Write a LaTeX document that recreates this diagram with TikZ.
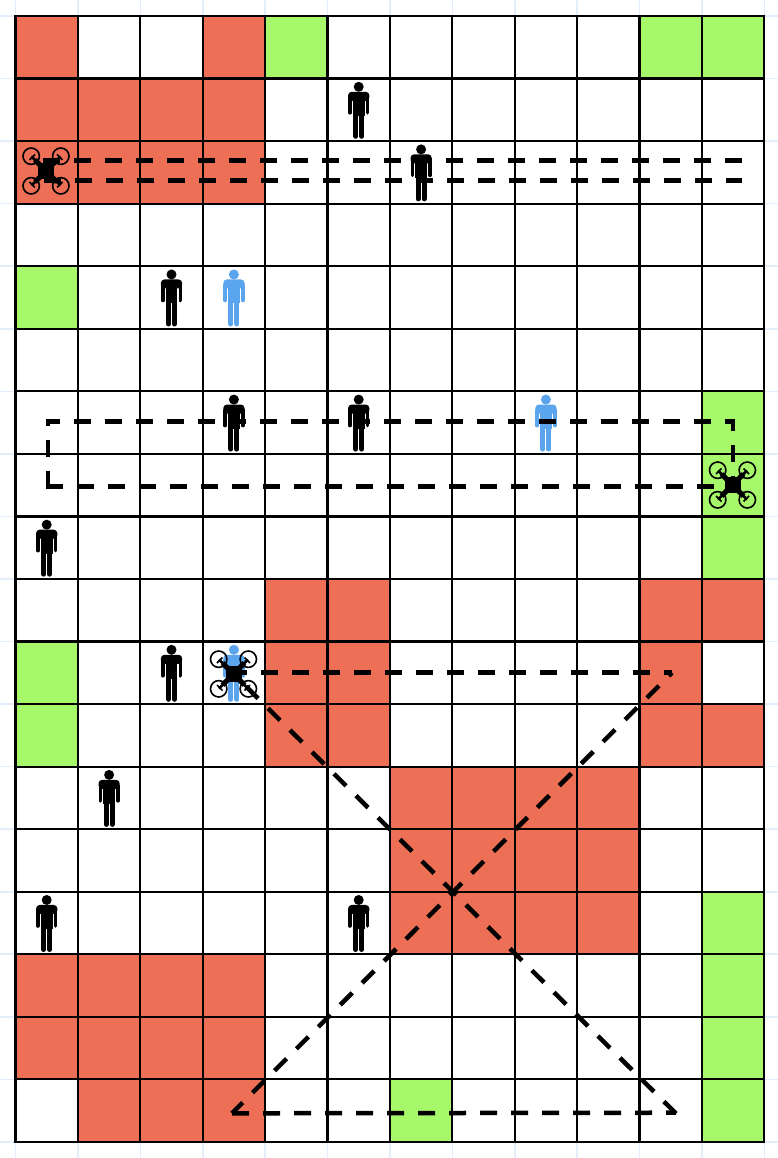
\documentclass[tikz,border=0pt]{standalone}
\usepackage{tikz}
\definecolor{cellred}{HTML}{EC6F56}
\definecolor{cellgreen}{HTML}{A6F76A}
\definecolor{paleline}{HTML}{E2EFFA}
\definecolor{walkerblue}{HTML}{5BA5EE}
\newcommand{\cellx}[1]{15.5+(#1+.5)*62.4}
\newcommand{\celly}[1]{16+(#1+.5)*62.55}
\tikzset{
	cellbox/.style={minimum width=62.4pt, minimum height=62.55pt, inner sep=0pt, outer sep=0pt},
	route/.style={line width=4.5pt, dash pattern=on 17pt off 14pt},
	walker/.pic={
		\fill[pic actions] (0,-23) circle (5pt);
		\fill[pic actions, rounded corners=3.5pt] (-10.6,-9) -- (-10.6,-18) -- (10.6,-18) -- (10.6,-9) -- cycle;
		\fill[pic actions] (-5.8,-13) rectangle (5.8,6);
		\draw[pic actions, line width=3.6pt, line cap=round] (-8.8,-12) -- (-8.8,3) (8.8,-12) -- (8.8,3);
		\draw[pic actions, line width=5pt, line cap=round] (-3,2) -- (-3,26.5) (3,2) -- (3,26.5);
	},
	drone/.pic={
		\foreach \sx/\sy in {-1/-1,1/-1,-1/1,1/1} {
			\draw[line width=1.6pt] (14.8*\sx,14.8*\sy) circle (8.2pt);
			\draw[line width=5pt] (0,0) -- (11*\sx,11*\sy);
			\draw[line width=2.6pt] (0,0) -- (14.5*\sx,14.5*\sy);
			\draw[line width=1.6pt] (11*\sx,16.5*\sy) -- (16.5*\sx,11*\sy);
		}
		\fill (-8,-8) rectangle (8,8);
	},
}
\begin{document}
\begin{tikzpicture}[x=1pt, y=-1pt]
	\useasboundingbox (0,0) rectangle (778,1158);
	\fill[white] (0,0) rectangle (778,1158);
	% pale sheet lines
	\foreach \c in {0,...,12}
		\draw[paleline, line width=1.6pt] ({15.5+\c*62.4},0) -- ({15.5+\c*62.4},1158);
	\foreach \r in {0,...,18}
		\draw[paleline, line width=1.6pt] (0,{16+\r*62.55}) -- (778,{16+\r*62.55});
	% cells
	\foreach \r in {0,...,17}
		\foreach \c in {0,...,11}
			\node[cellbox, fill=white] (cell-\r-\c) at ({\cellx{\c}},{\celly{\r}}) {};
	\foreach \r/\c in {0/0,0/3,1/0,1/1,1/2,1/3,2/0,2/1,2/2,2/3,9/4,9/5,9/10,9/11,10/4,10/5,10/10,11/4,11/5,11/10,11/11,
			12/6,12/7,12/8,12/9,13/6,13/7,13/8,13/9,14/6,14/7,14/8,14/9,15/0,15/1,15/2,15/3,16/0,16/1,16/2,16/3,17/1,17/2,17/3}
		\node[cellbox, fill=cellred] at (cell-\r-\c) {};
	\foreach \r/\c in {0/4,0/10,0/11,4/0,6/11,7/11,8/11,10/0,11/0,14/11,15/11,16/11,17/11,17/6}
		\node[cellbox, fill=cellgreen] at (cell-\r-\c) {};
	\foreach \r in {0,...,17}
		\foreach \c in {0,...,11}
			\node[cellbox, draw=black, line width=2.2pt] at (cell-\r-\c) {};
	% people
	\foreach \r/\c in {1/5,2/6,4/2,6/3,6/5,8/0,10/2,12/1,14/0,14/5}
		\path (cell-\r-\c) pic[black] (man-\r-\c) {walker};
	\foreach \r/\c in {4/3,6/8,10/3}
		\path (cell-\r-\c) pic[walkerblue] (man-\r-\c) {walker};
	% waypoints
	\coordinate (droneA) at (46,171);
	\coordinate (droneB) at (732.5,485);
	\coordinate (droneC) at (233.5,674);
	\coordinate (topA) at (43,160.3);
	\coordinate (topB) at (742,160.3);
	\coordinate (lowA) at (44,180.3);
	\coordinate (lowB) at (742,180.3);
	\coordinate (midA) at (733,492.7);
	\coordinate (midB) at (733,421.3);
	\coordinate (midC) at (46,421.3);
	\coordinate (midD) at (48,421.3);
	\coordinate (midE) at (48,488.5);
	\coordinate (midF) at (45.8,486.3);
	\coordinate (midG) at (733,486.3);
	\coordinate (farA) at (230,672.7);
	\coordinate (crossA) at (672,672.7);
	\coordinate (crossB) at (232,1113.3);
	\coordinate (crossC) at (676,1112.7);
	\coordinate (crossD) at (676,1113.5);
	% routes
	\draw[route] (topA) -- (topB);
	\draw[route] (lowA) -- (lowB);
	\draw[route] (midA) -- (midB) -- (midC);
	\draw[route, dash phase=12pt] (midD) -- (midE);
	\draw[route] (midF) -- (midG);
	\draw[route] (farA) -- (crossA);
	\draw[route, dash phase=12.5pt] (crossA) -- (crossB);
	\draw[route] (crossB) -- (crossC);
	\draw[route] (crossD) -- (droneC);
	% drones
	\path (droneA) pic (uavA) {drone};
	\path (droneB) pic (uavB) {drone};
	\path (droneC) pic (uavC) {drone};
\end{tikzpicture}
\end{document}
